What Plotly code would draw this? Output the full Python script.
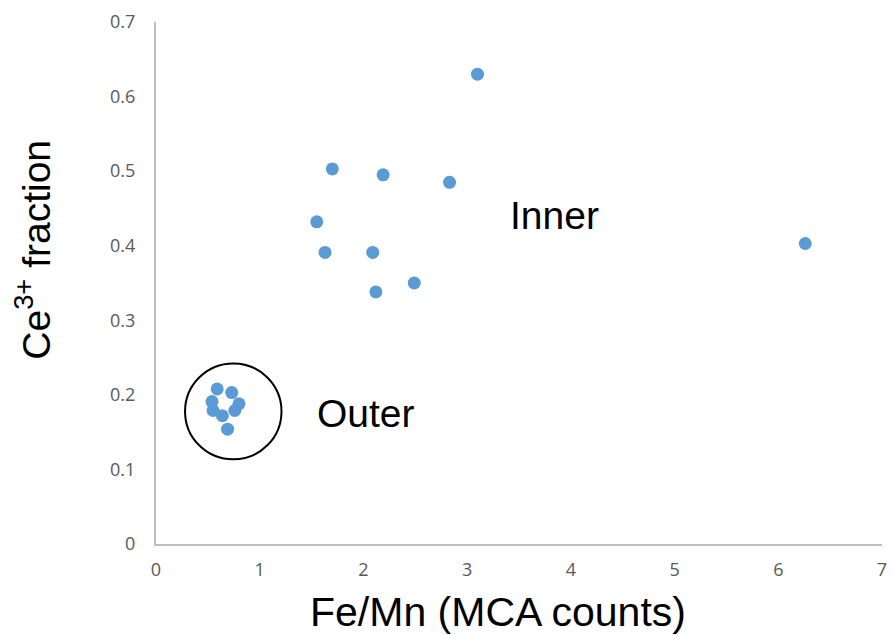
import plotly.graph_objects as go

# Data
fe_mn = [3.10, 1.70, 2.19, 2.83, 1.55, 1.63, 2.09, 2.12, 2.49, 6.26,
         0.59, 0.73, 0.54, 0.80, 0.55, 0.76, 0.64, 0.69]
ce3_fraction = [0.630, 0.503, 0.495, 0.485, 0.432, 0.391, 0.391, 0.338, 0.350, 0.403,
                0.208, 0.203, 0.191, 0.188, 0.179, 0.179, 0.172, 0.154]

x_ticks = [0, 1, 2, 3, 4, 5, 6, 7]
y_ticks = [0, 0.1, 0.2, 0.3, 0.4, 0.5, 0.6, 0.7]
y_tick_text = ["0", "0.1", "0.2", "0.3", "0.4", "0.5", "0.6", "0.7"]

# Outer cluster circle (data coords)
circle_x = [0.28, 1.21]
circle_y = [0.1135, 0.2422]

labels = [("Inner", 3.84, 0.44), ("Outer", 2.02, 0.175)]

fig = go.Figure()
fig.add_trace(go.Scatter(
    x=fe_mn, y=ce3_fraction, mode="markers",
    marker=dict(color="#5B9BD5", size=13, line=dict(width=0)),
    showlegend=False, hoverinfo="skip"))

fig.add_shape(type="circle", xref="x", yref="y",
              x0=circle_x[0], x1=circle_x[1], y0=circle_y[0], y1=circle_y[1],
              line=dict(color="black", width=2))

for txt, lx, ly in labels:
    fig.add_annotation(x=lx, y=ly, xref="x", yref="y", text=txt, showarrow=False,
                       font=dict(family="Liberation Sans, Arial", size=39, color="black"),
                       xanchor="center", yanchor="middle")

fig.add_annotation(x=0.4706, y=-0.13, xref="paper", yref="paper",
                   text="Fe/Mn (MCA counts)", showarrow=False,
                   font=dict(family="Liberation Sans, Arial", size=41, color="black"),
                   xanchor="center", yanchor="middle")
fig.add_annotation(x=-0.17, y=0.563, xref="paper", yref="paper",
                   text="Ce<sup>3+</sup> fraction", showarrow=False, textangle=-90,
                   font=dict(family="Liberation Sans, Arial", size=39, color="black"),
                   xanchor="center", yanchor="middle")

tickfont = dict(family="Open Sans, Liberation Sans", size=18, color="#595959")
fig.update_xaxes(range=[0, 7], tickvals=x_ticks, showgrid=False, zeroline=False,
                 showline=True, linecolor="#BFBFBF", linewidth=2, ticks="",
                 ticklabelstandoff=8, tickfont=tickfont, fixedrange=True)
fig.update_yaxes(range=[0, 0.7], tickvals=y_ticks, ticktext=y_tick_text, showgrid=False,
                 zeroline=False, showline=True, linecolor="#BFBFBF", linewidth=2,
                 ticks="", ticklabelstandoff=15, tickfont=tickfont, fixedrange=True)

fig.update_layout(width=895, height=635, margin=dict(l=156, r=8, t=22, b=91),
                  plot_bgcolor="white", paper_bgcolor="white")

fig.write_html("out.html")
